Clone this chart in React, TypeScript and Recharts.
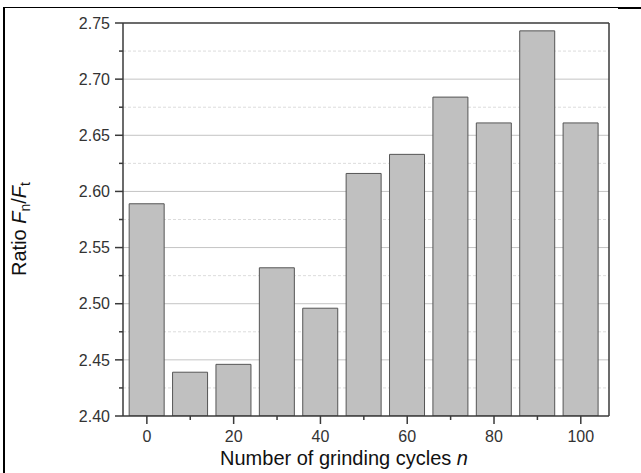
import React from "react";
import {
  BarChart,
  Bar,
  XAxis,
  YAxis,
  CartesianGrid,
} from "recharts";

// grinding cycles n and the measured Fn/Ft ratio
const cycles = [0, 10, 20, 30, 40, 50, 60, 70, 80, 90, 100];
const ratios = [2.589, 2.439, 2.446, 2.532, 2.496, 2.616, 2.633, 2.684, 2.661, 2.743, 2.661];

const xTicks = [0, 10, 20, 30, 40, 50, 60, 70, 80, 90, 100];
const yTicks = [
  2.4, 2.425, 2.45, 2.475, 2.5, 2.525, 2.55, 2.575, 2.6, 2.625, 2.65, 2.675, 2.7,
  2.725, 2.75,
];
const majorGrid = [2.45, 2.5, 2.55, 2.6, 2.65, 2.7];
const minorGrid = [2.425, 2.475, 2.525, 2.575, 2.625, 2.675, 2.725];
const xDomain = [-5.5, 106.5];
const yDomain = [2.4, 2.75];

const data = cycles.map((n, i) => ({ n, ratio: ratios[i] }));

const FONT = "'Liberation Sans', Arial, sans-serif";
const AXIS = "#3a3a3a";

const XTick = ({ x, y, payload }: any) => {
  const major = payload.value % 20 === 0;
  return (
    <g>
      <line x1={x} y1={y} x2={x} y2={y + (major ? 8 : 4)} stroke={AXIS} strokeWidth={1.5} />
      {major && (
        <text x={x} y={y + 26} textAnchor="middle" fontSize={16} fill="#333" fontFamily={FONT}>
          {payload.value}
        </text>
      )}
    </g>
  );
};

const YTick = ({ x, y, payload, index }: any) => {
  const major = index % 2 === 0;
  return (
    <g>
      <line x1={x - (major ? 8 : 4)} y1={y} x2={x} y2={y} stroke={AXIS} strokeWidth={1.5} />
      {major && (
        <text x={x - 13} y={y} dy="0.36em" textAnchor="end" fontSize={16} fill="#333" fontFamily={FONT}>
          {payload.value.toFixed(2)}
        </text>
      )}
    </g>
  );
};

const XTitle = () => (
  <text x={344} y={465} textAnchor="middle" fontSize={20} fill="#111" fontFamily={FONT}>
    Number of grinding cycles <tspan fontStyle="italic">n</tspan>
  </text>
);

const YTitle = () => (
  <text
    x={26}
    y={229}
    textAnchor="middle"
    fontSize={20}
    fill="#111"
    fontFamily={FONT}
    transform="rotate(-90, 26, 229)"
  >
    Ratio <tspan fontStyle="italic">F</tspan>
    <tspan dy={4} fontSize={14}>n</tspan>
    <tspan dy={-4}>/</tspan>
    <tspan fontStyle="italic">F</tspan>
    <tspan dy={4} fontSize={14}>t</tspan>
  </text>
);

export default function App() {
  return (
    <div style={{ position: "absolute", left: 0, top: 0, width: 641, height: 473, background: "#fff" }}>
      <div
        style={{
          position: "absolute",
          left: 3,
          top: 7,
          width: 615,
          height: 466,
          borderLeft: "2px solid #000",
          borderTop: "1px solid #000",
        }}
      />
      <div style={{ position: "absolute", left: 618, top: 7, width: 23, height: 2, background: "#000" }} />
      <div style={{ position: "absolute", left: 0, top: 0 }}>
        <BarChart
          width={641}
          height={473}
          data={data}
          margin={{ top: 23, right: 32, bottom: 0, left: 0 }}
        >
          <CartesianGrid vertical={false} horizontalValues={minorGrid} stroke="#dcdcdc" strokeDasharray="3 2" />
          <CartesianGrid vertical={false} horizontalValues={majorGrid} stroke="#c4c4c4" />
          {/* top and right frame */}
          <CartesianGrid
            horizontalValues={[yDomain[1]]}
            verticalValues={[xDomain[1]]}
            stroke={AXIS}
            strokeWidth={1.5}
          />
          <XAxis
            dataKey="n"
            type="number"
            domain={xDomain}
            allowDataOverflow
            ticks={xTicks}
            interval={0}
            height={57}
            tickSize={0}
            tickMargin={0}
            tick={<XTick />}
            tickLine={false}
            axisLine={{ stroke: AXIS, strokeWidth: 1.5 }}
            label={{ content: () => <XTitle /> }}
          />
          <YAxis
            type="number"
            domain={yDomain}
            allowDataOverflow
            ticks={yTicks}
            interval={0}
            width={123}
            tickSize={0}
            tickMargin={0}
            tick={<YTick />}
            tickLine={false}
            axisLine={{ stroke: AXIS, strokeWidth: 1.5 }}
            label={{ content: () => <YTitle /> }}
          />
          <Bar
            dataKey="ratio"
            barSize={35}
            fill="#c0c0c0"
            stroke="#555"
            strokeWidth={1}
            isAnimationActive={false}
          />
        </BarChart>
      </div>
    </div>
  );
}
